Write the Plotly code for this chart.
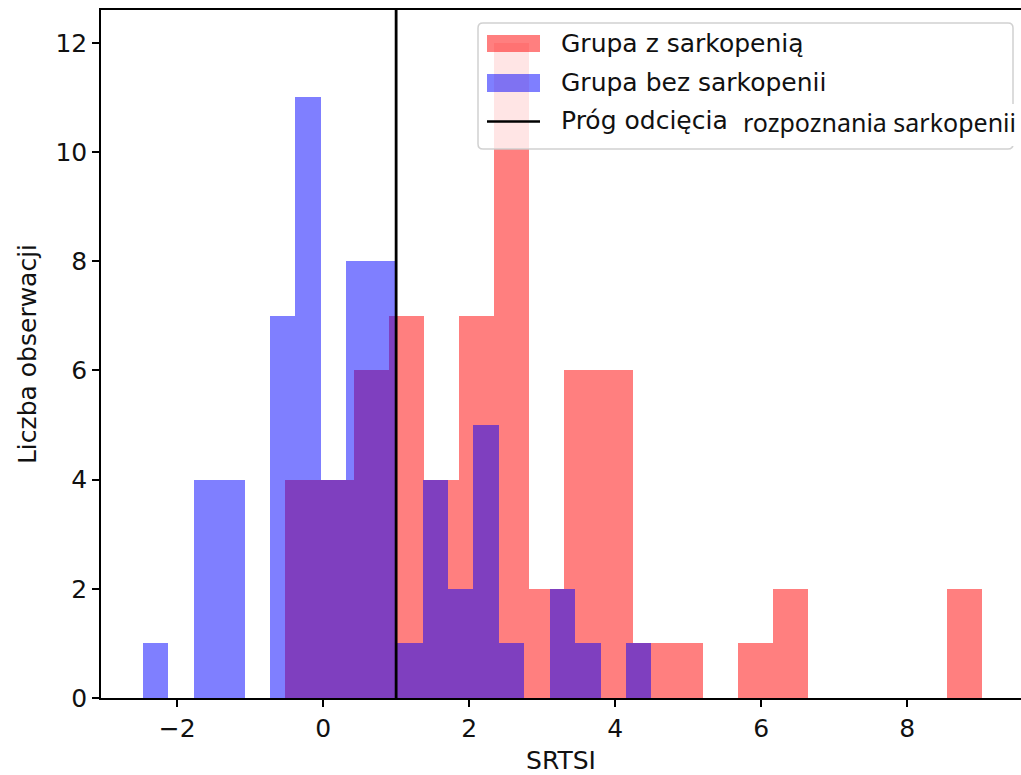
import numpy as np
import plotly.graph_objects as go

# Histogram counts (20 bins each) and the value range spanned by the bins
sarc_counts = [4, 4, 6, 7, 4, 7, 12, 2, 6, 6, 1, 1, 0, 1, 2, 0, 0, 0, 0, 2]
sarc_range = (-0.527, 9.030)
nosarc_counts = [1, 0, 4, 4, 0, 7, 11, 4, 8, 8, 1, 4, 2, 5, 1, 0, 2, 1, 0, 1]
nosarc_range = (-2.468, 4.496)
threshold = 1.0

x_ticks = [-2, 0, 2, 4, 6, 8]
y_ticks = [0, 2, 4, 6, 8, 10, 12]

label_sarc = "Grupa z sarkopenią"
label_nosarc = "Grupa bez sarkopenii"
label_thr = "Próg odcięcia"
label_thr_tail = "rozpoznania sarkopenii"
x_title = "SRTSI"
y_title = "Liczba obserwacji"

FONT = "DejaVu Sans"
FS = 25
RED = "rgba(255,0,0,0.5)"
BLUE = "rgba(0,0,255,0.5)"


def bins(rng, counts):
    edges = np.linspace(rng[0], rng[1], len(counts) + 1)
    centers = (edges[:-1] + edges[1:]) / 2
    width = edges[1] - edges[0]
    return centers, width


fig = go.Figure()
for counts, rng, color in [(sarc_counts, sarc_range, RED), (nosarc_counts, nosarc_range, BLUE)]:
    c, w = bins(rng, counts)
    fig.add_trace(go.Bar(x=c, y=counts, width=w, marker=dict(color=color, line=dict(width=0)),
                         showlegend=False, hoverinfo="x+y"))

# Plot-area geometry in pixels
W_FIG, H_FIG = 1021, 775
L, R, T, B = 101, 1021, 10, 698
PW, PH = R - L, B - T


def fx(px):
    return (px - L) / PW


def fy(py):
    return (B - py) / PH


# cutoff line
fig.add_shape(type="line", x0=threshold, x1=threshold, xref="x", yref="paper", y0=0, y1=1,
              line=dict(color="black", width=2.8), layer="above")

# legend frame with rounded corners
x0, x1, y0, y1, r = 478, 1013, 23, 149, 5
path = (f"M {fx(x0 + r)},{fy(y0)} L {fx(x1 - r)},{fy(y0)} Q {fx(x1)},{fy(y0)} {fx(x1)},{fy(y0 + r)} "
        f"L {fx(x1)},{fy(y1 - r)} Q {fx(x1)},{fy(y1)} {fx(x1 - r)},{fy(y1)} "
        f"L {fx(x0 + r)},{fy(y1)} Q {fx(x0)},{fy(y1)} {fx(x0)},{fy(y1 - r)} "
        f"L {fx(x0)},{fy(y0 + r)} Q {fx(x0)},{fy(y0)} {fx(x0 + r)},{fy(y0)} Z")
fig.add_shape(type="path", path=path, xref="paper", yref="paper",
              fillcolor="rgba(255,255,255,0.8)", line=dict(color="rgba(204,204,204,0.9)", width=1.5),
              layer="above")

# legend handles
fig.add_shape(type="rect", xref="paper", yref="paper", x0=fx(487), x1=fx(540), y0=fy(52), y1=fy(35),
              fillcolor=RED, line=dict(width=0), layer="above")
fig.add_shape(type="rect", xref="paper", yref="paper", x0=fx(487), x1=fx(540), y0=fy(92), y1=fy(74),
              fillcolor=BLUE, line=dict(width=0), layer="above")
fig.add_shape(type="line", xref="paper", yref="paper", x0=fx(487), x1=fx(540), y0=fy(121.5), y1=fy(121.5),
              line=dict(color="black", width=2.6), layer="above")

# white strip behind the continued label text
fig.add_shape(type="rect", xref="paper", yref="paper", x0=fx(736), x1=fx(1030), y0=fy(146), y1=fy(104),
              fillcolor="white", line=dict(width=0), layer="above")

for text, yc in [(label_sarc, 44), (label_nosarc, 83), (label_thr, 121)]:
    fig.add_annotation(text=text, xref="paper", yref="paper", x=fx(560), y=fy(yc),
                       xanchor="left", yanchor="middle", showarrow=False, borderpad=0,
                       font=dict(family=FONT, size=FS, color="#111"))
fig.add_annotation(text=label_thr_tail, xref="paper", yref="paper", x=fx(742), y=fy(122),
                   xanchor="left", yanchor="middle", showarrow=False, borderpad=0,
                   font=dict(family="Noto Sans", size=25, color="#111"))

axis_common = dict(showgrid=False, zeroline=False, showline=True, linecolor="black", linewidth=1.5,
                   ticks="outside", ticklen=7, tickwidth=1.5, tickcolor="black",
                   tickfont=dict(family=FONT, size=FS, color="#111"), automargin=False)

fig.update_layout(
    width=W_FIG, height=H_FIG,
    margin=dict(l=L, r=W_FIG - R, t=T, b=H_FIG - B, pad=0),
    paper_bgcolor="white", plot_bgcolor="white",
    barmode="overlay", bargap=0,
    showlegend=False,
    xaxis=dict(range=[-3.043, 9.560], tickvals=x_ticks, mirror=True,
               title=dict(text=x_title, font=dict(family=FONT, size=FS, color="#111"), standoff=10),
               **axis_common),
    yaxis=dict(range=[0, 12.6], tickvals=y_ticks, mirror=False,
               title=dict(text=y_title, font=dict(family=FONT, size=FS, color="#111"), standoff=12),
               **axis_common),
)

fig.write_html("out.html")
